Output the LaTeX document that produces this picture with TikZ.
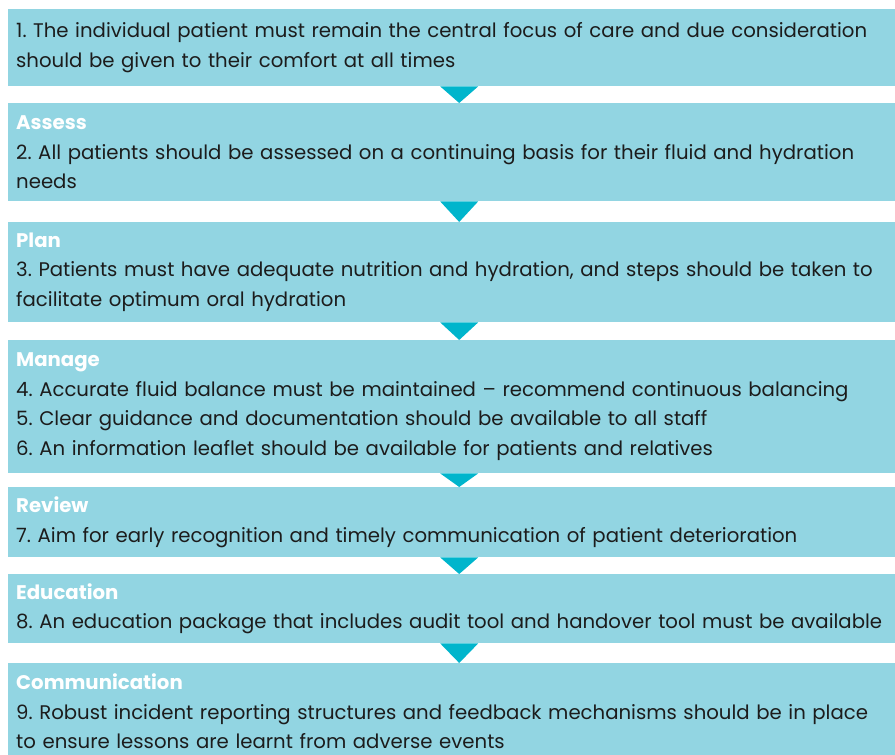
\documentclass[tikz,border=0pt]{standalone}
\usepackage{fontspec}
\setmainfont{Poppins}
\usetikzlibrary{calc}

\definecolor{boxblue}{RGB}{146,213,226}
\definecolor{arrowteal}{RGB}{0,181,204}
\definecolor{bodytext}{RGB}{28,28,28}

\newcommand{\stephead}[1]{{\color{white}\bfseries #1}}

\tikzset{
    stepbox/.style={
        fill=boxblue, anchor=north west,
        text width=886pt, inner xsep=8pt, inner ysep=0pt,
        align=left, text=bodytext,
        font=\fontsize{19.7}{29.5}\selectfont\frenchspacing
    },
    steparrow/.style={fill=arrowteal}
}

\begin{document}
\begin{tikzpicture}[x=1pt, y=-1pt]
        \useasboundingbox (0,0) rectangle (895,755);
        \clip (0,0) rectangle (895,755);

        % --- 各ステップの箱 ---
        \node[stepbox, minimum height=77pt] (care) at (8,9) {1. The individual patient must remain the central focus of care and due consideration\\should be given to their comfort at all times};
        \node[stepbox, minimum height=98pt] (assess) at (8,103) {\stephead{Assess}\\2. All patients should be assessed on a continuing basis for their fluid and hydration\\needs};
        \node[stepbox, minimum height=100pt] (plan) at (8,222) {\stephead{Plan}\\3. Patients must have adequate nutrition and hydration, and steps should be taken to\\facilitate optimum oral hydration};
        \node[stepbox, minimum height=133pt] (manage) at (8,340) {\stephead{Manage}\\4. Accurate fluid balance must be maintained – recommend continuous balancing\\5. Clear guidance and documentation should be available to all staff\\6. An information leaflet should be available for patients and relatives};
        \node[stepbox, minimum height=70pt] (review) at (8,487) {\stephead{Review}\\7. Aim for early recognition and timely communication of patient deterioration};
        \node[stepbox, minimum height=69pt] (educ) at (8,574) {\stephead{Education}\\8. An education package that includes audit tool and handover tool must be available};
        \node[stepbox, minimum height=96pt] (comm) at (8,663) {\stephead{Communication}\\9. Robust incident reporting structures and feedback mechanisms should be in place\\to ensure lessons are learnt from adverse events};

        % --- 箱の間の三角形 ---
        \foreach \a/\b in {care/assess, assess/plan, plan/manage, manage/review, review/educ, educ/comm} {
            \fill[steparrow] (\a.south) ++(-19,0) -- ++(38,0) -- (\b.north) -- cycle;
        }

    \end{tikzpicture}
\end{document}
